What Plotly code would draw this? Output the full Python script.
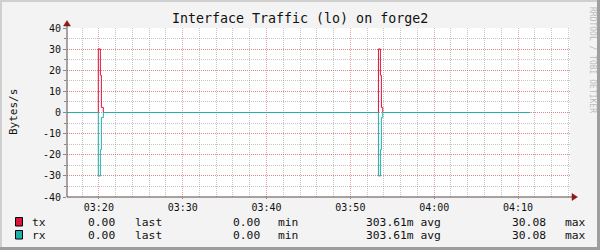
import plotly.graph_objects as go

# ---- data ----
DAY = "2024-01-01 "
times = ["03:16:12", "03:19:56", "03:20:11", "03:20:18", "03:20:32",
         "03:53:21", "03:53:35", "03:53:42", "03:53:52", "04:11:27"]
tx_vals = [0, 30.08, 17.6, 2.4, 0, 30.08, 17.6, 2.4, 0, 0]
rx_vals = [0, -30.08, -17.6, -2.4, 0, -30.08, -17.6, -2.4, 0, 0]
y_tick_vals = [40, 30, 20, 10, 0, -10, -20, -30, -40]
y_tick_text = ["40", "30", "20", "10", "0", "-10", "-20", "-30", "-40"]
x_range = ["03:16:12", "04:16:12"]
legend_rows = [
    ("tx", "#DC143C", ["0.00", "last", "0.00", "min", "303.61m avg", "30.08", "max"]),
    ("rx", "#20B2AA", ["0.00", "last", "0.00", "min", "303.61m avg", "30.08", "max"]),
]
title = "Interface Traffic (lo) on forge2"
y_label = "Bytes/s"
watermark = "RRDTOOL / TOBI OETIKER"

# ---- layout geometry (pixels) ----
W, H = 600, 250
PL, PR, PT, PB = 67, 570, 28, 197
def px(x):
    return (x - PL) / (PR - PL)
def py(y):
    return (PB - y) / (PB - PT)

MONO = "DejaVu Sans Mono"
MAJOR = "rgba(230,93,93,0.6)"
MINOR = "rgba(140,140,140,0.5)"

fig = go.Figure()
xs = [DAY + t for t in times]
fig.add_trace(go.Scatter(x=xs, y=tx_vals, mode="lines", line=dict(color="#DC143C", width=1, shape="hv"),
                         showlegend=False, hoverinfo="skip"))
fig.add_trace(go.Scatter(x=xs, y=rx_vals, mode="lines", line=dict(color="#20B2AA", width=1, shape="hv"),
                         showlegend=False, hoverinfo="skip"))

fig.update_layout(
    width=W, height=H, autosize=False,
    margin=dict(l=PL, r=W - PR, t=PT, b=H - PB, pad=0),
    paper_bgcolor="#F3F3F3", plot_bgcolor="#FFFFFF",
    font=dict(family=MONO, color="#222222", size=10),
    showlegend=False,
)
fig.update_xaxes(
    type="date", range=[DAY + x_range[0], DAY + x_range[1]],
    dtick=600000, tickformat="%H:%M",
    showgrid=True, gridcolor=MAJOR, griddash="1px,1px", gridwidth=1,
    minor=dict(dtick=120000, showgrid=True, gridcolor=MINOR, griddash="1px,1px", gridwidth=1),
    ticks="outside", ticklen=1, tickcolor="#888888",
    showline=False, zeroline=False,
    tickfont=dict(family=MONO, size=10, color="#111111"),
)
fig.update_yaxes(
    range=[-40, 40], tickmode="array", tickvals=y_tick_vals, ticktext=y_tick_text,
    showgrid=True, gridcolor=MAJOR, griddash="1px,1px", gridwidth=1,
    minor=dict(dtick=5, showgrid=True, gridcolor=MINOR, griddash="1px,1px", gridwidth=1,
               ticks="outside", ticklen=2, tickcolor="#888888"),
    ticks="outside", ticklen=3, tickcolor="#888888",
    showline=False, zeroline=False,
    tickfont=dict(family=MONO, size=10, color="#111111"),
)

shapes = []
# frame shading
shapes.append(dict(type="rect", xref="paper", yref="paper", x0=px(0), x1=px(W), y0=py(0), y1=py(2),
                   fillcolor="#CFCFCF", line_width=0, layer="above"))
shapes.append(dict(type="rect", xref="paper", yref="paper", x0=px(0), x1=px(2), y0=py(0), y1=py(H),
                   fillcolor="#CFCFCF", line_width=0, layer="above"))
shapes.append(dict(type="rect", xref="paper", yref="paper", x0=px(W - 3), x1=px(W), y0=py(0), y1=py(H),
                   fillcolor="#9E9E9E", line_width=0, layer="above"))
shapes.append(dict(type="rect", xref="paper", yref="paper", x0=px(0), x1=px(W), y0=py(H - 3), y1=py(H),
                   fillcolor="#9E9E9E", line_width=0, layer="above"))
# axes
AX = "#5a4a4a"
shapes.append(dict(type="line", xref="paper", yref="paper", x0=0, x1=px(574), y0=0, y1=0,
                   line=dict(color=AX, width=1), layer="above"))
shapes.append(dict(type="line", xref="paper", yref="paper", x0=0, x1=0, y0=0, y1=py(24),
                   line=dict(color=AX, width=1), layer="above"))
ARR = "#8B1A1A"
shapes.append(dict(type="path", xref="paper", yref="paper",
                   path=f"M {px(572)} {py(193.5)} L {px(577.5)} {py(PB)} L {px(572)} {py(200.5)} Z",
                   fillcolor=ARR, line=dict(color=ARR, width=0.5), layer="above"))
shapes.append(dict(type="path", xref="paper", yref="paper",
                   path=f"M {px(63.5)} {py(26)} L {px(PL)} {py(20.5)} L {px(70.5)} {py(26)} Z",
                   fillcolor=ARR, line=dict(color=ARR, width=0.5), layer="above"))

annotations = []
annotations.append(dict(text=title, xref="paper", yref="paper", x=px(300), y=py(19),
                        xanchor="center", yanchor="middle", showarrow=False,
                        font=dict(family=MONO, size=13.3, color="#111111")))
annotations.append(dict(text=y_label, xref="paper", yref="paper", x=px(13), y=py(112),
                        xanchor="center", yanchor="middle", showarrow=False, textangle=-90,
                        font=dict(family=MONO, size=11, color="#111111")))
annotations.append(dict(text=watermark, xref="paper", yref="paper", x=px(592), y=py(60),
                        xanchor="center", yanchor="middle", showarrow=False, textangle=90,
                        font=dict(family=MONO, size=8, color="#BBBBBB")))

col_x = [(117, "right"), (133, "left"), (262, "right"), (275.5, "left"),
         (363.5, "left"), (548, "right"), (562.5, "left")]
row_y = [222, 235]
for (name, color, cells), yc in zip(legend_rows, row_y):
    shapes.append(dict(type="rect", xref="paper", yref="paper",
                       x0=px(15.5), x1=px(22.5), y0=py(yc - 4.5), y1=py(yc + 4),
                       fillcolor=color, line=dict(color="#000000", width=1), layer="above"))
    annotations.append(dict(text=name, xref="paper", yref="paper", x=px(30), y=py(yc),
                            xanchor="left", yanchor="middle", showarrow=False,
                            font=dict(family=MONO, size=11.3, color="#111111")))
    for (xx, anc), cell in zip(col_x, cells):
        annotations.append(dict(text=cell, xref="paper", yref="paper", x=px(xx), y=py(yc),
                                xanchor=anc, yanchor="middle", showarrow=False,
                                font=dict(family=MONO, size=11.3, color="#111111")))

fig.update_layout(shapes=shapes, annotations=annotations)
fig.write_html("out.html")
